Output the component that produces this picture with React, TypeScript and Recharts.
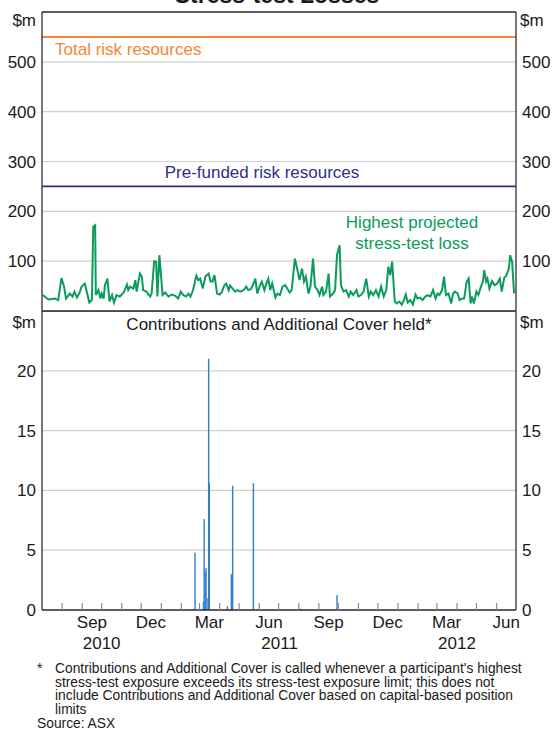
import React from 'react';
import {
  ComposedChart,
  Line,
  Bar,
  XAxis,
  YAxis,
  CartesianGrid,
  ReferenceLine,
} from 'recharts';

const FONT = '"Liberation Sans", Arial, Helvetica, sans-serif';
const FRAME = '#2f2f2f';
const GRID = '#cfcfcf';
const BAR_BLUE = '#2f80c8';

const START = '2010-07-01';
const END = '2012-07-01';

const TOTAL_RISK_RESOURCES = 550;
const PREFUNDED_RISK_RESOURCES = 250;

const LOSS_TICKS = [100, 200, 300, 400, 500];
const CONTRIB_TICKS = [0, 5, 10, 15, 20];
const MONTH_NAMES = ['Jan', 'Feb', 'Mar', 'Apr', 'May', 'Jun', 'Jul', 'Aug', 'Sep', 'Oct', 'Nov', 'Dec'];
const LABEL_MONTHS = [2, 5, 8, 11]; // Mar, Jun, Sep, Dec

// highest projected stress-test loss, $m
const LOSS: [string, number][] = [
  ['2010-07-02', 32], ['2010-07-11', 23], ['2010-07-21', 25], ['2010-07-26', 22], ['2010-07-31', 66],
  ['2010-08-04', 49], ['2010-08-07', 25], ['2010-08-13', 35], ['2010-08-17', 29], ['2010-08-20', 39],
  ['2010-08-24', 27], ['2010-08-28', 37], ['2010-08-31', 49], ['2010-09-05', 55], ['2010-09-08', 39],
  ['2010-09-12', 17], ['2010-09-16', 22], ['2010-09-18', 169], ['2010-09-21', 172], ['2010-09-22', 32],
  ['2010-09-26', 42], ['2010-09-29', 25], ['2010-10-01', 35], ['2010-10-04', 25], ['2010-10-06', 52],
  ['2010-10-10', 65], ['2010-10-13', 19], ['2010-10-17', 32], ['2010-10-20', 17], ['2010-10-24', 32],
  ['2010-10-29', 29], ['2010-11-04', 37], ['2010-11-09', 53], ['2010-11-11', 42], ['2010-11-14', 49],
  ['2010-11-19', 45], ['2010-11-22', 62], ['2010-11-24', 39], ['2010-11-29', 75], ['2010-12-02', 69],
  ['2010-12-04', 42], ['2010-12-09', 39], ['2010-12-12', 33], ['2010-12-15', 29], ['2010-12-17', 35],
  ['2010-12-21', 100], ['2010-12-24', 99], ['2010-12-26', 29], ['2010-12-29', 112],
  ['2011-01-03', 32], ['2011-01-07', 37], ['2011-01-12', 29], ['2011-01-17', 33], ['2011-01-22', 31],
  ['2011-01-27', 25], ['2011-01-31', 39], ['2011-02-04', 32], ['2011-02-08', 29], ['2011-02-12', 35],
  ['2011-02-15', 29], ['2011-02-19', 42], ['2011-02-24', 71], ['2011-02-27', 62], ['2011-03-02', 65],
  ['2011-03-06', 45], ['2011-03-10', 69], ['2011-03-15', 75], ['2011-03-18', 59], ['2011-03-21', 59],
  ['2011-03-24', 72], ['2011-03-28', 35], ['2011-04-01', 33], ['2011-04-04', 37], ['2011-04-08', 51],
  ['2011-04-11', 55], ['2011-04-15', 42], ['2011-04-17', 51], ['2011-04-21', 45], ['2011-04-25', 39],
  ['2011-04-28', 42], ['2011-05-03', 39], ['2011-05-08', 42], ['2011-05-12', 49], ['2011-05-15', 42],
  ['2011-05-19', 44], ['2011-05-22', 51], ['2011-05-26', 65], ['2011-05-29', 35], ['2011-06-02', 51],
  ['2011-06-05', 59], ['2011-06-09', 42], ['2011-06-12', 55], ['2011-06-15', 65], ['2011-06-18', 42],
  ['2011-06-21', 55], ['2011-06-26', 27], ['2011-06-29', 35], ['2011-07-03', 32], ['2011-07-07', 49],
  ['2011-07-11', 52], ['2011-07-18', 37], ['2011-07-21', 42], ['2011-07-26', 105], ['2011-07-30', 82],
  ['2011-08-02', 62], ['2011-08-06', 85], ['2011-08-09', 59], ['2011-08-12', 69], ['2011-08-16', 35],
  ['2011-08-19', 49], ['2011-08-23', 105], ['2011-08-26', 49], ['2011-08-30', 42], ['2011-09-02', 32],
  ['2011-09-06', 49], ['2011-09-08', 32], ['2011-09-12', 39], ['2011-09-16', 75], ['2011-09-18', 29],
  ['2011-09-23', 35], ['2011-09-26', 42], ['2011-09-29', 113], ['2011-10-03', 132], ['2011-10-05', 52],
  ['2011-10-09', 39], ['2011-10-13', 42], ['2011-10-17', 29], ['2011-10-20', 39], ['2011-10-24', 32],
  ['2011-10-29', 42], ['2011-11-01', 29], ['2011-11-05', 32], ['2011-11-09', 39], ['2011-11-13', 65],
  ['2011-11-17', 29], ['2011-11-20', 39], ['2011-11-24', 32], ['2011-11-28', 42], ['2011-12-02', 29],
  ['2011-12-06', 49], ['2011-12-10', 29], ['2011-12-14', 42], ['2011-12-17', 89], ['2011-12-20', 72],
  ['2011-12-23', 99], ['2011-12-25', 59], ['2011-12-27', 19], ['2011-12-30', 15],
  ['2012-01-03', 19], ['2012-01-07', 13], ['2012-01-10', 22], ['2012-01-13', 33], ['2012-01-16', 17],
  ['2012-01-20', 22], ['2012-01-24', 13], ['2012-01-28', 33], ['2012-01-31', 25], ['2012-02-04', 27],
  ['2012-02-08', 22], ['2012-02-12', 29], ['2012-02-16', 32], ['2012-02-20', 29], ['2012-02-24', 42],
  ['2012-02-28', 25], ['2012-03-02', 35], ['2012-03-05', 32], ['2012-03-09', 42], ['2012-03-12', 69],
  ['2012-03-15', 32], ['2012-03-19', 35], ['2012-03-23', 15], ['2012-03-26', 35], ['2012-03-29', 39],
  ['2012-04-02', 35], ['2012-04-05', 22], ['2012-04-09', 25], ['2012-04-12', 25], ['2012-04-16', 59],
  ['2012-04-19', 65], ['2012-04-22', 15], ['2012-04-24', 29], ['2012-04-27', 15], ['2012-05-01', 39],
  ['2012-05-04', 32], ['2012-05-08', 49], ['2012-05-11', 59], ['2012-05-13', 82], ['2012-05-16', 59],
  ['2012-05-18', 65], ['2012-05-21', 45], ['2012-05-25', 60], ['2012-05-29', 52], ['2012-06-02', 55],
  ['2012-06-06', 65], ['2012-06-09', 39], ['2012-06-13', 67], ['2012-06-16', 71], ['2012-06-20', 85],
  ['2012-06-22', 112], ['2012-06-25', 99], ['2012-06-28', 35],
];

// contributions and additional cover held, $m
const CONTRIB: [string, number][] = [
  ['2011-02-22', 4.8], ['2011-03-07', 0.7], ['2011-03-08', 7.6], ['2011-03-10', 3.2],
  ['2011-03-11', 3.5], ['2011-03-14', 1.0], ['2011-03-15', 21.0], ['2011-03-16', 10.6],
  ['2011-04-13', 0.3], ['2011-04-19', 3.0], ['2011-04-21', 10.4], ['2011-05-23', 10.6],
  ['2011-08-04', 0.1], ['2011-09-29', 1.25],
];

const FOOTNOTE = [
  "Contributions and Additional Cover is called whenever a participant's highest",
  'stress-test exposure exceeds its stress-test exposure limit; this does not',
  'include Contributions and Additional Cover based on capital-based position',
  'limits',
];

const toTime = (s: string) => Date.parse(s + 'T00:00:00Z');
const T0 = toTime(START);
const T1 = toTime(END);

const lossData = LOSS.map(([d, v]) => ({ t: toTime(d), v }));
const contribData = CONTRIB.map(([d, v]) => ({ t: toTime(d), v }));

// x-axis ticks: month boundaries (marks), mid-month labels, and year labels
const tickKinds = new Map<number, string[]>();
const addTick = (t: number, kind: string) => {
  const list = tickKinds.get(t) ?? [];
  list.push(kind);
  tickKinds.set(t, list);
};
{
  const s = new Date(T0);
  let y = s.getUTCFullYear();
  let m = s.getUTCMonth();
  while (Date.UTC(y, m, 1) < T1) {
    const t = Date.UTC(y, m, 1);
    if (t > T0) addTick(t, 'month');
    if (LABEL_MONTHS.includes(m)) addTick(Date.UTC(y, m, 16), 'label');
    m += 1;
    if (m > 11) { m = 0; y += 1; }
  }
  for (let yr = new Date(T0).getUTCFullYear(); yr <= new Date(T1 - 1).getUTCFullYear(); yr++) {
    const a = Math.max(T0, Date.UTC(yr, 0, 1));
    const b = Math.min(T1, Date.UTC(yr + 1, 0, 1));
    addTick((a + b) / 2, 'year:' + yr);
  }
}
const X_TICKS = Array.from(tickKinds.keys()).sort((a, b) => a - b);

const DateTick = (props: any) => {
  const { x, y, payload } = props;
  const kinds = tickKinds.get(payload.value) ?? [];
  const d = new Date(payload.value);
  return (
    <g>
      {kinds.map((k) => {
        if (k === 'month') {
          return <line key={k} x1={x} x2={x} y1={y} y2={y - 7} stroke="#8a8a8a" strokeWidth={1.2} />;
        }
        if (k === 'label') {
          return (
            <text key={k} x={x} y={y + 18} textAnchor="middle" fontSize={17} fill="#1a1a1a" fontFamily={FONT}>
              {MONTH_NAMES[d.getUTCMonth()]}
            </text>
          );
        }
        return (
          <text key={k} x={x} y={y + 39} textAnchor="middle" fontSize={17} fill="#1a1a1a" fontFamily={FONT}>
            {k.split(':')[1]}
          </text>
        );
      })}
    </g>
  );
};

// daily bars are narrower than a pixel on this scale, so draw each as a thin fixed-width stick
const ThinBar = (props: any) => {
  const { x, y, width, height } = props;
  if (!height || height <= 0) return null;
  const w = 1.4;
  return <rect x={x + width / 2 - w / 2} y={y} width={w} height={height} fill={BAR_BLUE} />;
};

const axisTick = { fontSize: 17, fill: '#1a1a1a', fontFamily: FONT };
const axisLine = { stroke: FRAME, strokeWidth: 1.3 };

export default function App() {
  return (
    <div style={{ position: 'absolute', left: 0, top: 0, width: 554, height: 732, background: '#fff', fontFamily: FONT }}>
      <div style={{ position: 'absolute', left: 0, top: 0 }}>
        <ComposedChart width={554} height={312} data={lossData} margin={{ top: 12, right: 0, bottom: 1, left: 0 }}>
          <CartesianGrid yAxisId="l" vertical={false} stroke={GRID} strokeWidth={1.2} />
          <XAxis dataKey="t" type="number" domain={[T0, T1]} allowDataOverflow hide />
          <YAxis yAxisId="l" domain={[0, 600]} ticks={LOSS_TICKS} interval={0} width={42} allowDataOverflow
            tickLine={false} tickSize={6} tickMargin={0} axisLine={axisLine} tick={axisTick} />
          <YAxis yAxisId="r" orientation="right" domain={[0, 600]} ticks={LOSS_TICKS} interval={0} width={38}
            allowDataOverflow tickLine={false} tickSize={6} tickMargin={0} axisLine={axisLine} tick={axisTick} />
          <ReferenceLine yAxisId="l" y={600} stroke={FRAME} strokeWidth={1.3} />
          <ReferenceLine yAxisId="l" y={0} stroke={FRAME} strokeWidth={1.3} />
          <ReferenceLine yAxisId="l" y={TOTAL_RISK_RESOURCES} stroke="#f5853a" strokeWidth={2} />
          <ReferenceLine yAxisId="l" y={PREFUNDED_RISK_RESOURCES} stroke="#2e2f86" strokeWidth={1.6} />
          <Line yAxisId="l" type="linear" dataKey="v" stroke="#0a9c5a" strokeWidth={2} dot={false}
            isAnimationActive={false} />
          <Line yAxisId="r" type="linear" dataKey="v" stroke="none" dot={false} legendType="none"
            isAnimationActive={false} />
        </ComposedChart>
      </div>
      <div style={{ position: 'absolute', left: 0, top: 311 }}>
        <ComposedChart width={554} height={350} data={contribData} margin={{ top: 0, right: 0, bottom: 0, left: 0 }}>
          <CartesianGrid yAxisId="l" vertical={false} stroke={GRID} strokeWidth={1.2} />
          <XAxis dataKey="t" type="number" domain={[T0, T1]} allowDataOverflow height={51}
            ticks={X_TICKS} interval={0} tickLine={false} tickSize={0} tickMargin={0}
            axisLine={axisLine} tick={<DateTick />} />
          <YAxis yAxisId="l" domain={[0, 25]} ticks={CONTRIB_TICKS} interval={0} width={42} allowDataOverflow
            tickLine={false} tickSize={6} tickMargin={0} axisLine={axisLine} tick={axisTick} />
          <YAxis yAxisId="r" orientation="right" domain={[0, 25]} ticks={CONTRIB_TICKS} interval={0} width={38}
            allowDataOverflow tickLine={false} tickSize={6} tickMargin={0} axisLine={axisLine} tick={axisTick} />
          <ReferenceLine yAxisId="l" y={25} stroke={FRAME} strokeWidth={1.3} />
          <Bar yAxisId="l" dataKey="v" fill={BAR_BLUE} shape={<ThinBar />} isAnimationActive={false} />
          <Line yAxisId="r" type="linear" dataKey="v" stroke="none" dot={false} legendType="none"
            isAnimationActive={false} />
        </ComposedChart>
      </div>
      <svg width={554} height={732} style={{ position: 'absolute', left: 0, top: 0, pointerEvents: 'none' }}
        fontFamily={FONT}>
        <text x={277} y={3} textAnchor="middle" fontSize={23} fontWeight="bold" fill="#1a1a1a">Stress-test Losses</text>
        <text x={36} y={26} textAnchor="end" fontSize={17} fill="#1a1a1a">$m</text>
        <text x={520} y={26} fontSize={17} fill="#1a1a1a">$m</text>
        <text x={36} y={328} textAnchor="end" fontSize={17} fill="#1a1a1a">$m</text>
        <text x={520} y={328} fontSize={17} fill="#1a1a1a">$m</text>
        <text x={55} y={55} fontSize={17} fill="#f5853a">Total risk resources</text>
        <text x={262} y={178} textAnchor="middle" fontSize={17} fill="#2e2f86">Pre-funded risk resources</text>
        <text x={412} y={228} textAnchor="middle" fontSize={17} fill="#0a9c5a">Highest projected</text>
        <text x={412} y={249} textAnchor="middle" fontSize={17} fill="#0a9c5a">stress-test loss</text>
        <text x={279} y={330} textAnchor="middle" fontSize={17} fill="#1a1a1a">Contributions and Additional Cover held*</text>
        <text x={37} y={673} fontSize={13.8} fill="#1a1a1a">*</text>
        {FOOTNOTE.map((line, i) => (
          <text key={i} x={55} y={673 + i * 13.6} fontSize={13.8} fill="#1a1a1a">{line}</text>
        ))}
        <text x={37} y={728} fontSize={13.8} fill="#1a1a1a">Source: ASX</text>
      </svg>
    </div>
  );
}
